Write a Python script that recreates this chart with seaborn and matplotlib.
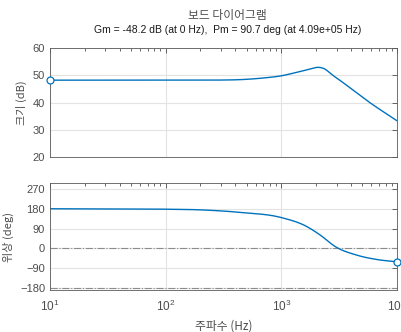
import numpy as np
import pandas as pd
import matplotlib
matplotlib.use("Agg")
import matplotlib.pyplot as plt
import seaborn as sns
from matplotlib.ticker import LogLocator, NullFormatter

sns.set_theme(style="white")
plt.rcParams['font.family'] = ['Liberation Sans', 'Noto Sans CJK KR', 'DejaVu Sans']

freq_hz = [10, 50, 100, 200, 540, 740, 1000, 1250, 1560, 1800, 2100, 2400, 2650, 3470, 4520, 5900, 7690, 10000]
mag_db = [48.2, 48.2, 48.2, 48.2, 48.6, 49.1, 49.8, 50.7, 51.7, 52.4, 52.9, 52.2, 50.7, 47.1, 43.4, 39.8, 36.5, 33.3]
ph_freq_hz = [10, 50, 100, 200, 450, 1000, 1650, 2150, 2950, 4450, 6600, 10000]
phase_deg = [180, 179, 178, 175, 163, 140, 100, 62, 7, -30, -50, -61]

title = "보드 다이어그램"
subtitle = "Gm = -48.2 dB (at 0 Hz),  Pm = 90.7 deg (at 4.09e+05 Hz)"

def dense(f, v, n=400):
    lf = np.log10(f)
    x = np.linspace(lf[0], lf[-1], n)
    lf = np.asarray(lf); v = np.asarray(v, float)
    m = np.gradient(v, lf)
    idx = np.clip(np.searchsorted(lf, x) - 1, 0, len(lf) - 2)
    h = lf[idx + 1] - lf[idx]
    t = (x - lf[idx]) / h
    h00 = 2*t**3 - 3*t**2 + 1; h10 = t**3 - 2*t**2 + t
    h01 = -2*t**3 + 3*t**2; h11 = t**3 - t**2
    out = h00*v[idx] + h10*h*m[idx] + h01*v[idx+1] + h11*h*m[idx+1]
    return 10**x, out

fm, vm = dense(freq_hz, mag_db)
fp, vp = dense(ph_freq_hz, phase_deg)
dm = pd.DataFrame({"f": fm, "v": vm})
dp = pd.DataFrame({"f": fp, "v": vp})

line_c = "#0072BD"
txt_c = "#4d4d4d"
fig = plt.figure(figsize=(4.01, 3.32), dpi=100)
ax1 = fig.add_axes([0.1247, 0.527, 0.8653, 0.3284])
ax2 = fig.add_axes([0.1247, 0.1265, 0.8653, 0.3223])

sns.lineplot(data=dm, x="f", y="v", ax=ax1, color=line_c, lw=1.0)
sns.lineplot(data=dp, x="f", y="v", ax=ax2, color=line_c, lw=1.0)
ax1.plot([freq_hz[0]], [mag_db[0]], 'o', ms=5, mfc='white', mec=line_c, mew=0.9, clip_on=False, zorder=5)
ax2.plot([ph_freq_hz[-1]], [phase_deg[-1]], 'o', ms=5, mfc='white', mec=line_c, mew=0.9, clip_on=False, zorder=5)

for y0 in [0, -180]:
    ax2.axhline(y0, color="#8c8c8c", lw=0.8, ls='-.', zorder=1)

for ax in (ax1, ax2):
    ax.set_xscale('log')
    ax.set_xlim(10, 10000)
    ax.xaxis.set_major_locator(LogLocator(base=10, numticks=10))
    ax.xaxis.set_minor_locator(LogLocator(base=10, subs=np.arange(2, 10), numticks=10))
    ax.xaxis.set_minor_formatter(NullFormatter())
    ax.grid(True, which='major', color='#e3e3e3', lw=0.8)
    ax.set_axisbelow(True)
    ax.tick_params(which='both', direction='in', top=True, right=True, colors=txt_c,
                   labelsize=8, labelcolor=txt_c)
    ax.tick_params(which='major', length=3.5, width=0.6)
    ax.tick_params(which='minor', length=2, width=0.6)
    ax.tick_params(axis='y', which='minor', left=False, right=False)
    for s in ax.spines.values():
        s.set_color('#5a5a5a')
        s.set_linewidth(0.6)
        s.set_visible(True)

ax1.set_ylim(20, 60)
ax1.set_yticks([20, 30, 40, 50, 60])
ax1.tick_params(axis='x', labelbottom=False)
ax1.set_xlabel("")
ax1.set_ylabel("크기 (dB)", color=txt_c, fontsize=8,
               fontfamily=['Noto Sans CJK KR', 'Liberation Sans'])

ax2.set_ylim(-189, 297)
ax2.set_yticks([-180, -90, 0, 90, 180, 270])
ax2.set_ylabel("위상 (deg)", color=txt_c, fontsize=8,
               fontfamily=['Noto Sans CJK KR', 'Liberation Sans'])
ax2.set_xlabel("주파수 (Hz)", color=txt_c, fontsize=8.5,
               fontfamily=['Noto Sans CJK KR', 'Liberation Sans'])
ax2.tick_params(axis='x', pad=6, labelsize=8.5)

fig.text(0.5675, 1 - 16/332, title, ha='center', va='center', fontsize=8.5, color=txt_c,
         fontfamily=['Noto Sans CJK KR', 'Liberation Sans'])
fig.text(0.5675, 1 - 30/332, subtitle, ha='center', va='center', fontsize=7.5, color='#1a1a1a')

fig.savefig("out.png", dpi=100)
